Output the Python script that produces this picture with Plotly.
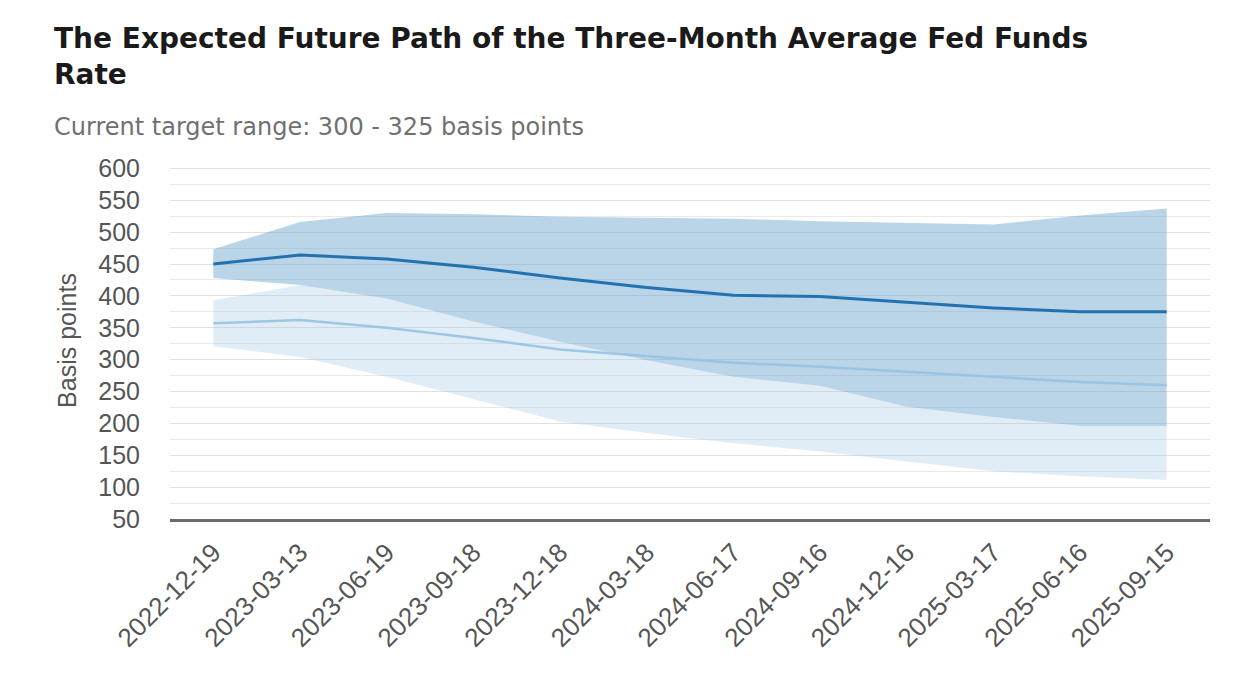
import plotly.graph_objects as go

dates = ["2022-12-19", "2023-03-13", "2023-06-19", "2023-09-18", "2023-12-18", "2024-03-18",
         "2024-06-17", "2024-09-16", "2024-12-16", "2025-03-17", "2025-06-16", "2025-09-15"]

# current expected path (dark) and its band
current_mid = [450, 464, 458, 445, 428, 413, 401, 399, 390, 381, 375, 375]
current_high = [473, 516, 530, 528, 524, 523, 521, 517, 514, 512, 526, 537]
current_low = [428, 417, 396, 360, 328, 299, 273, 259, 226, 210, 196, 196]

# earlier expected path (light) and its band
earlier_mid = [357, 362, 350, 334, 316, 305, 295, 289, 281, 272, 265, 260]
earlier_high = [393, 417, 396, 360, 328, 299, 273, 259, 226, 210, 196, 196]
earlier_low = [321, 304, 273, 238, 203, 185, 169, 156, 140, 125, 117, 111]

y_ticks = [50, 100, 150, 200, 250, 300, 350, 400, 450, 500, 550, 600]

L, R, T, B = 162, 38, 154, 175
W, H = 1240, 686
PW, PH = W - L - R, H - T - B

fig = go.Figure()

# light band
fig.add_trace(go.Scatter(x=dates, y=earlier_low, mode="lines", line=dict(width=0),
                         showlegend=False, hoverinfo="skip"))
fig.add_trace(go.Scatter(x=dates, y=earlier_high, mode="lines", line=dict(width=0),
                         fill="tonexty", fillcolor="rgba(160,200,230,0.32)",
                         showlegend=False, hoverinfo="skip"))
# dark band
fig.add_trace(go.Scatter(x=dates, y=current_low, mode="lines", line=dict(width=0),
                         showlegend=False, hoverinfo="skip"))
fig.add_trace(go.Scatter(x=dates, y=current_high, mode="lines", line=dict(width=0),
                         fill="tonexty", fillcolor="rgba(110,165,206,0.48)",
                         showlegend=False, hoverinfo="skip"))
# lines
fig.add_trace(go.Scatter(x=dates, y=earlier_mid, mode="lines",
                         line=dict(color="rgba(150,195,225,0.9)", width=2.5),
                         showlegend=False))
fig.add_trace(go.Scatter(x=dates, y=current_mid, mode="lines",
                         line=dict(color="#2372b0", width=3),
                         showlegend=False))

fig.update_layout(
    width=W, height=H,
    margin=dict(l=L, r=R, t=T, b=B),
    paper_bgcolor="white", plot_bgcolor="white",
    font=dict(family="Liberation Sans, Arial, sans-serif", color="#555"),
    xaxis=dict(type="category", range=[-0.5, 11.5], tickangle=-45,
               tickfont=dict(size=26, color="#555"), ticklabelstandoff=5,
               showgrid=False, showline=True, linecolor="#6b6b6b", linewidth=3,
               ticks="", zeroline=False),
    yaxis=dict(range=[50, 610], tickvals=y_ticks,
               tickfont=dict(size=25, color="#555"),
               showgrid=True, gridcolor="#e0e0e0", gridwidth=1,
               minor=dict(tickvals=[v + 25 for v in y_ticks[:-1]], showgrid=True,
                          gridcolor="#eaeaea", gridwidth=1),
               zeroline=False, ticks="", ticklabelstandoff=29,
               title=dict(text="Basis points", font=dict(size=25, color="#555"), standoff=14)),
    annotations=[
        dict(text="<b>The Expected Future Path of the Three-Month Average Fed Funds<br>Rate</b>",
             xref="paper", yref="paper", x=(44 - L) / PW, y=1 + (T - 12) / PH,
             xanchor="left", yanchor="top", align="left", showarrow=False,
             font=dict(family="DejaVu Sans, sans-serif", size=28, color="#1a1a1a")),
        dict(text="Current target range: 300 - 325 basis points",
             xref="paper", yref="paper", x=(44 - L) / PW, y=1 + (T - 103) / PH,
             xanchor="left", yanchor="top", align="left", showarrow=False,
             font=dict(family="DejaVu Sans, sans-serif", size=24, color="#707070")),
    ],
)

fig.write_html("out.html")
